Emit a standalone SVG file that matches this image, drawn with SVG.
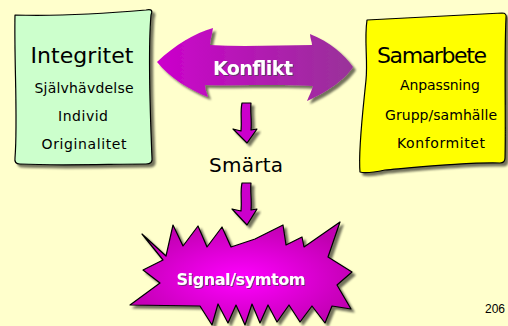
<svg xmlns="http://www.w3.org/2000/svg" width="508" height="326" viewBox="0 0 508 326">
<defs>
<style>
.t{font-family:"DejaVu Sans","Liberation Sans",sans-serif;fill:#000;text-anchor:middle}
.w{font-family:"DejaVu Sans","Liberation Sans",sans-serif;fill:#fff;font-weight:bold;text-anchor:middle}
.ol{stroke:#000;stroke-width:1.2;stroke-linejoin:round}
</style>
<filter id="sh" x="-10%" y="-10%" width="130%" height="130%">
<feGaussianBlur in="SourceAlpha" stdDeviation="1.2"/>
<feOffset dx="3" dy="3" result="b"/>
<feFlood flood-color="#000" flood-opacity="0.55"/>
<feComposite in2="b" operator="in"/>
<feMerge><feMergeNode/><feMergeNode in="SourceGraphic"/></feMerge>
</filter>
<filter id="ts" x="-10%" y="-20%" width="130%" height="150%">
<feOffset in="SourceAlpha" dx="1" dy="1" result="o"/>
<feFlood flood-color="#444" flood-opacity="0.7"/>
<feComposite in2="o" operator="in"/>
<feMerge><feMergeNode/><feMergeNode in="SourceGraphic"/></feMerge>
</filter>
<linearGradient id="gk" x1="0" y1="0" x2="1" y2="0">
<stop offset="0" stop-color="#CC00CC"/>
<stop offset="1" stop-color="#993399"/>
</linearGradient>
<radialGradient id="gs" cx="0.5" cy="0.55" r="0.55">
<stop offset="0" stop-color="#FF00FF"/>
<stop offset="1" stop-color="#C000B0"/>
</radialGradient>
</defs>
<rect width="508" height="326" fill="#FFFFCC"/>

<g id="connectors">
<path filter="url(#sh)" fill="#CC00CC" class="ol" d="M242,103 L251,103 C250,112 252,120 251,130 L257,129 L247,143 L233,129 L241,131 C242,120 240,112 242,103 Z"/>
<path filter="url(#sh)" fill="#CC00CC" class="ol" d="M242,183 L251,183 C250,192 252,200 251,210 L257,209 L247,225 L232,209 L241,211 C242,200 240,192 242,183 Z"/>
</g>

<g id="integritet">
<path filter="url(#sh)" fill="#CCFFCC" class="ol" d="M15,15 C50,16 100,14 146,10 Q154,8 151,15 C148,50 150,110 152,158 Q153,164 146,164 C110,164 60,166 20,164 Q14,164 15,158 C18,120 14,60 15,15 Z"/>
<text class="t" x="82" y="63" font-size="22" textLength="103">Integritet</text>
<text class="t" x="84" y="93" font-size="14" textLength="99">Självhävdelse</text>
<text class="t" x="83" y="121" font-size="14" textLength="50">Individ</text>
<text class="t" x="84" y="149" font-size="14" textLength="85">Originalitet</text>
</g>

<g id="konflikt">
<path filter="url(#sh)" fill="url(#gk)" d="M157,62 C175,45 195,33 213,28 C212,35 210,40 210,45 C245,47 280,45 312,45 C312,42 310,38 310,34 C330,42 345,55 353,67 C345,80 325,93 307,101 C309,96 312,90 313,86 C280,84 240,86 205,85 C205,90 207,93 208,97 C190,90 170,78 157,62 Z"/>
<text class="w" x="253" y="75" font-size="19" textLength="80" filter="url(#ts)">Konflikt</text>
</g>

<g id="samarbete">
<path filter="url(#sh)" fill="#FFFF00" class="ol" d="M367,20 C400,18 450,16 502,13 Q507,13 506,18 C504,60 506,120 505,158 Q505,163 500,163 C470,162 430,166 385,170 Q366,174 360,172 C358,150 363,110 366,80 C368,60 364,40 367,20 Z"/>
<text class="t" x="432" y="63" font-size="22" textLength="110">Samarbete</text>
<text class="t" x="440" y="90" font-size="14" textLength="80">Anpassning</text>
<text class="t" x="441" y="120" font-size="14" textLength="112">Grupp/samhälle</text>
<text class="t" x="441" y="148" font-size="14" textLength="88">Konformitet</text>
</g>

<g id="smarta">
<text class="t" x="246" y="172" font-size="20" textLength="74">Smärta</text>
</g>

<g id="signal">
<path filter="url(#sh)" fill="url(#gs)" class="ol" d="M142,234 L166,256 L173,225 L183,246 L198,226 L207,247 L222,227 L231,247 L255,239 L283,225 L286,245 L302,237 L304,247 L340,222 L328,257 L352,272 L337,285 L351,309 L332,306 L325,323 L312,306 L300,322 L289,305 L277,322 L268,305 L260,323 L252,304 L245,325 L236,305 L228,323 L218,304 L212,325 L200,306 L130,305 L160,283 L143,270 L163,260 Z"/>
<text class="w" x="241" y="285" font-size="16" textLength="129" filter="url(#ts)">Signal/symtom</text>
</g>

<text x="505" y="313" font-family="Liberation Sans, Arial, sans-serif" font-size="12" text-anchor="end" fill="#000">206</text>
</svg>
